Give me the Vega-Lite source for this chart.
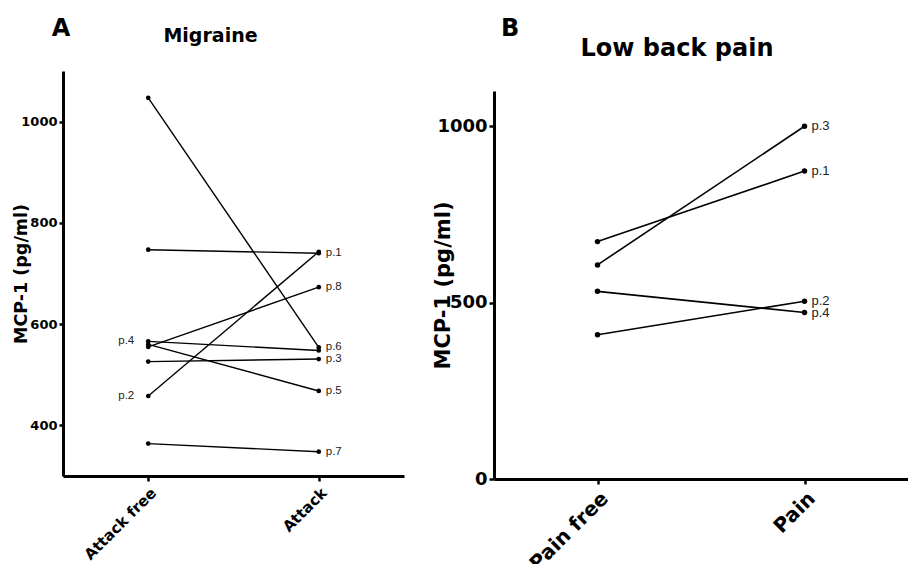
{
  "$schema": "https://vega.github.io/schema/vega-lite/v6.json",
  "padding": {"left": 12, "top": 17, "right": 0, "bottom": 0},
  "background": "white",
  "spacing": 28,
  "config": {
    "view": {"stroke": null},
    "font": "DejaVu Sans",
    "axis": {
      "grid": false,
      "domainColor": "black",
      "domainWidth": 3,
      "tickColor": "black",
      "tickWidth": 2.5,
      "tickSize": 5,
      "labelColor": "black",
      "labelFontWeight": "bold",
      "titleColor": "black",
      "titleFontWeight": "bold",
      "labelFont": "DejaVu Sans",
      "titleFont": "DejaVu Sans"
    },
    "title": {"color": "black", "fontWeight": "bold", "font": "DejaVu Sans", "baseline": "alphabetic"}
  },
  "datasets": {
    "migraine": [
      {"subject": "p.1", "condition": "Attack free", "value": 747},
      {"subject": "p.1", "condition": "Attack", "value": 740, "label": "p.1"},
      {"subject": "p.2", "condition": "Attack free", "value": 458, "label": "p.2"},
      {"subject": "p.2", "condition": "Attack", "value": 743},
      {"subject": "p.3", "condition": "Attack free", "value": 526},
      {"subject": "p.3", "condition": "Attack", "value": 531, "label": "p.3"},
      {"subject": "p.4", "condition": "Attack free", "value": 566, "label": "p.4"},
      {"subject": "p.4", "condition": "Attack", "value": 548},
      {"subject": "p.5", "condition": "Attack free", "value": 560},
      {"subject": "p.5", "condition": "Attack", "value": 468, "label": "p.5"},
      {"subject": "p.6", "condition": "Attack free", "value": 1047},
      {"subject": "p.6", "condition": "Attack", "value": 554, "label": "p.6"},
      {"subject": "p.7", "condition": "Attack free", "value": 364},
      {"subject": "p.7", "condition": "Attack", "value": 348, "label": "p.7"},
      {"subject": "p.8", "condition": "Attack free", "value": 555},
      {"subject": "p.8", "condition": "Attack", "value": 673, "label": "p.8"}
    ],
    "lbp": [
      {"subject": "p.1", "condition": "Pain free", "value": 673},
      {"subject": "p.1", "condition": "Pain", "value": 873, "label": "p.1"},
      {"subject": "p.2", "condition": "Pain free", "value": 409},
      {"subject": "p.2", "condition": "Pain", "value": 504, "label": "p.2"},
      {"subject": "p.3", "condition": "Pain free", "value": 607},
      {"subject": "p.3", "condition": "Pain", "value": 1000, "label": "p.3"},
      {"subject": "p.4", "condition": "Pain free", "value": 532},
      {"subject": "p.4", "condition": "Pain", "value": 472, "label": "p.4"}
    ]
  },
  "hconcat": [
    {
      "title": {"text": "A", "anchor": "start", "fontSize": 24, "dx": 39, "offset": -14},
      "vconcat": [
        {
          "title": {"text": "Migraine", "fontSize": 19, "anchor": "middle", "dx": -23, "offset": 25},
          "width": 341,
          "height": 405,
          "data": {"name": "migraine"},
          "encoding": {
            "x": {"field": "condition", "type": "ordinal", "sort": ["Attack free", "Attack"], "scale": {"type": "point", "padding": 0.5}, "axis": {"title": null, "labelAngle": -45, "labelFontSize": 15, "labelPadding": 4}},
            "y": {"field": "value", "type": "quantitative", "scale": {"domain": [300, 1100], "nice": false, "zero": false}, "axis": {"values": [400, 600, 800, 1000], "format": "d", "title": "MCP-1 (pg/ml)", "titleFontSize": 17.5, "labelFontSize": 13, "tickSize": 4, "titlePadding": -10}}
          },
          "layer": [
            {"mark": {"type": "line", "color": "black", "strokeWidth": 1.4}, "encoding": {"detail": {"field": "subject"}}},
            {"mark": {"type": "point", "filled": true, "color": "black", "size": 22, "opacity": 1}},
            {"transform": [{"filter": "datum.label && datum.condition == 'Attack'"}], "mark": {"type": "text", "align": "left", "dx": 7, "font": "Liberation Sans", "fontSize": 11.5, "fill": "#222"}, "encoding": {"text": {"field": "label"}}},
            {"transform": [{"filter": "datum.label && datum.condition == 'Attack free'"}], "mark": {"type": "text", "align": "right", "dx": -14, "font": "Liberation Sans", "fontSize": 11.5, "fill": "#222"}, "encoding": {"text": {"field": "label"}}}
          ]
        }
      ]
    },
    {
      "title": {"text": "B", "anchor": "start", "fontSize": 24, "dx": 68, "offset": -4},
      "bounds": "flush",
      "spacing": 0,
      "vconcat": [
        {
          "title": {"text": "Low back pain", "fontSize": 24, "anchor": "middle", "dx": -24, "offset": 10},
          "width": 414,
          "height": 20,
          "data": {"values": []},
          "mark": {"type": "point", "opacity": 0}
        },
        {
          "width": 414,
          "height": 388,
          "data": {"name": "lbp"},
          "encoding": {
            "x": {"field": "condition", "type": "ordinal", "sort": ["Pain free", "Pain"], "scale": {"type": "point", "padding": 0.5}, "axis": {"title": null, "labelAngle": -45, "labelFontSize": 20, "labelPadding": 4}},
            "y": {"field": "value", "type": "quantitative", "scale": {"domain": [0, 1100], "nice": false}, "axis": {"values": [0, 500, 1000], "format": "d", "title": "MCP-1 (pg/ml)", "titleFontSize": 21, "labelFontSize": 18, "titlePadding": -17}}
          },
          "layer": [
            {"mark": {"type": "line", "color": "black", "strokeWidth": 1.6}, "encoding": {"detail": {"field": "subject"}}},
            {"mark": {"type": "point", "filled": true, "color": "black", "size": 30, "opacity": 1}},
            {"transform": [{"filter": "datum.label"}], "mark": {"type": "text", "align": "left", "dx": 7, "font": "Liberation Sans", "fontSize": 13, "fill": "#222"}, "encoding": {"text": {"field": "label"}}}
          ]
        }
      ]
    }
  ]
}
